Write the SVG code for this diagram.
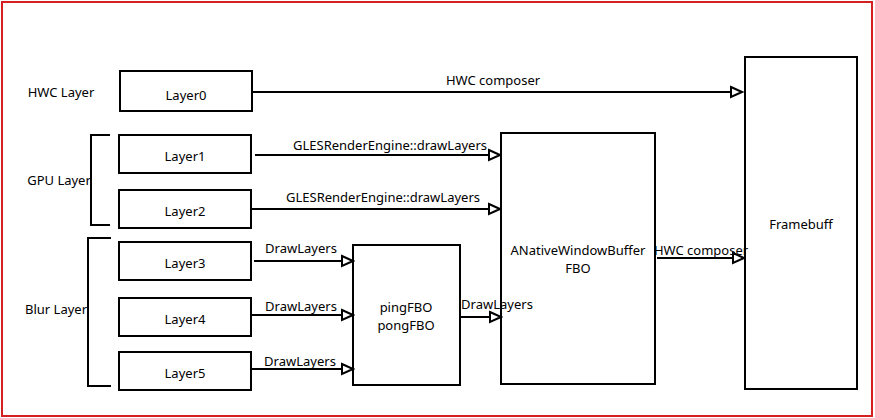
<svg xmlns="http://www.w3.org/2000/svg" width="875" height="418" viewBox="0 0 875 418">
<defs>
<style>
.box{fill:#fff;stroke:#000;stroke-width:2}
.t{font-family:"Noto Sans","DejaVu Sans",sans-serif;font-size:13px;fill:#000;text-anchor:middle}
.e{stroke:#000;stroke-width:2;fill:none}
</style>
<marker id="ah" markerWidth="14" markerHeight="14" refX="12" refY="6" orient="auto" markerUnits="userSpaceOnUse" viewBox="0 0 14 12">
<path d="M1,1 L12,6 L1,11 Z" fill="#fff" stroke="#000" stroke-width="2"/>
</marker>
</defs>
<rect x="2" y="2" width="870" height="414" fill="#fff" stroke="#d42020" stroke-width="2"/>
<text class="t" x="61" y="97">HWC Layer</text>
<text class="t" x="59" y="185">GPU Layer</text>
<text class="t" x="56" y="314">Blur Layer</text>
<path class="e" d="M110,135 H91 V225 H110"/>
<path class="e" d="M111,238 H88 V386 H111"/>
<g id="layer0"><rect class="box" x="120" y="71" width="132" height="40"/><text class="t" x="186" y="100">Layer0</text></g>
<g id="layer1"><rect class="box" x="119" y="135" width="132" height="38"/><text class="t" x="185" y="161">Layer1</text></g>
<g id="layer2"><rect class="box" x="119" y="190" width="132" height="38"/><text class="t" x="185" y="216">Layer2</text></g>
<g id="layer3"><rect class="box" x="119" y="242" width="132" height="38"/><text class="t" x="185" y="268">Layer3</text></g>
<g id="layer4"><rect class="box" x="119" y="298" width="132" height="38"/><text class="t" x="185" y="324">Layer4</text></g>
<g id="layer5"><rect class="box" x="119" y="352" width="132" height="38"/><text class="t" x="185" y="378">Layer5</text></g>
<g id="pingpong"><rect class="box" x="353" y="245" width="107" height="140"/><text class="t" x="406" y="312">pingFBO</text><text class="t" x="406" y="330">pongFBO</text></g>
<g id="anwb"><rect class="box" x="501" y="133" width="154" height="251"/><text class="t" x="578" y="255">ANativeWindowBuffer</text><text class="t" x="578" y="273">FBO</text></g>
<g id="framebuff"><rect class="box" x="745" y="57" width="112" height="332"/><text class="t" x="801" y="229">Framebuff</text></g>
<g id="connectors">
<path class="e" d="M252,92 H742" marker-end="url(#ah)"/>
<path class="e" d="M255,155 H500" marker-end="url(#ah)"/>
<path class="e" d="M251,209 H500" marker-end="url(#ah)"/>
<path class="e" d="M254,261 H353" marker-end="url(#ah)"/>
<path class="e" d="M251,315 H353" marker-end="url(#ah)"/>
<path class="e" d="M251,369 H353" marker-end="url(#ah)"/>
<path class="e" d="M460,317 H501" marker-end="url(#ah)"/>
<path class="e" d="M657,258 H744" marker-end="url(#ah)"/>
<text class="t" x="493" y="85">HWC composer</text>
<text class="t" x="390" y="150">GLESRenderEngine::drawLayers</text>
<text class="t" x="383" y="202">GLESRenderEngine::drawLayers</text>
<text class="t" x="301" y="253">DrawLayers</text>
<text class="t" x="301" y="311">DrawLayers</text>
<text class="t" x="300" y="366">DrawLayers</text>
<text class="t" x="497" y="309">DrawLayers</text>
<text class="t" x="701" y="255">HWC composer</text>
</g>
</svg>
